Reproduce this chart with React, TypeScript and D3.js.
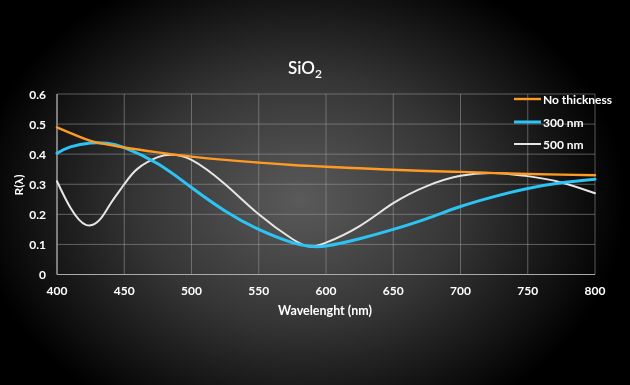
import React, { useRef, useEffect } from 'react';
import * as d3 from 'd3';

const wavelengths = [400, 410, 425, 437.5, 450, 475, 500, 525, 550, 575, 587.5, 600, 625, 650, 675, 700, 725, 750, 775, 800];
const noThickness = [0.489, 0.47, 0.444, 0.432, 0.422, 0.406, 0.392, 0.381, 0.372, 0.364, 0.361, 0.358, 0.353, 0.348, 0.344, 0.341, 0.337, 0.334, 0.332, 0.33];
const nm300 = [0.403, 0.424, 0.437, 0.436, 0.422, 0.368, 0.289, 0.211, 0.15, 0.106, 0.094, 0.095, 0.119, 0.15, 0.186, 0.226, 0.259, 0.286, 0.305, 0.317];

const white500X = [400, 410, 421.5, 432, 440, 450, 460, 475, 485, 500, 525, 550, 575, 587.5, 600, 625, 650, 675, 700, 725, 750, 775, 800];
const nm500 = [0.31, 0.222, 0.165, 0.183, 0.237, 0.3, 0.352, 0.39, 0.398, 0.381, 0.3, 0.2, 0.118, 0.093, 0.106, 0.161, 0.237, 0.294, 0.328, 0.337, 0.327, 0.306, 0.27];

const xTicks = [400, 450, 500, 550, 600, 650, 700, 750, 800];
const yTicks = [0, 0.1, 0.2, 0.3, 0.4, 0.5, 0.6];
const seriesNames = ['No thickness', '300 nm', '500 nm'];
const seriesColors = ['#ff9a22', '#2cc4f5', '#e6e6e6'];

const W = 630;
const H = 385;

const App = () => {
  const ref = useRef<SVGSVGElement>(null);

  useEffect(() => {
    const svg = d3.select(ref.current);
    svg.selectAll('*').remove();
    const font = 'Lato, "Open Sans", sans-serif';

    // vignette background
    const defs = svg.append('defs');
    const grad = defs.append('radialGradient')
      .attr('id', 'bg')
      .attr('gradientUnits', 'userSpaceOnUse')
      .attr('cx', 300).attr('cy', 200).attr('r', 310)
      .attr('gradientTransform', 'translate(300,200) scale(1.05,0.8) translate(-300,-200)');
    grad.append('stop').attr('offset', '0%').attr('stop-color', '#5a5a5a');
    grad.append('stop').attr('offset', '50%').attr('stop-color', '#353535');
    grad.append('stop').attr('offset', '100%').attr('stop-color', '#000');
    svg.append('rect').attr('width', W).attr('height', H).attr('fill', 'url(#bg)');

    const x = d3.scaleLinear().domain([400, 800]).range([57, 595]);
    const y = d3.scaleLinear().domain([0, 0.6]).range([274.5, 94]);

    // grid
    svg.append('g').selectAll('line.v')
      .data(xTicks)
      .enter().append('line')
      .attr('x1', d => x(d)).attr('x2', d => x(d))
      .attr('y1', y(0)).attr('y2', y(0.6))
      .attr('stroke', '#9a9a9a').attr('stroke-opacity', 0.55).attr('stroke-width', 1);
    svg.append('g').selectAll('line.h')
      .data(yTicks)
      .enter().append('line')
      .attr('x1', x(400)).attr('x2', x(800))
      .attr('y1', d => y(d)).attr('y2', d => y(d))
      .attr('stroke', '#9a9a9a').attr('stroke-opacity', 0.55).attr('stroke-width', 1);

    // axis lines
    svg.append('line').attr('x1', x(400)).attr('x2', x(400)).attr('y1', y(0)).attr('y2', y(0.6))
      .attr('stroke', '#aaa').attr('stroke-width', 1.2);
    svg.append('line').attr('x1', x(400)).attr('x2', x(800)).attr('y1', y(0)).attr('y2', y(0))
      .attr('stroke', '#aaa').attr('stroke-width', 1.2);

    // tick labels
    svg.append('g').selectAll('text')
      .data(yTicks)
      .enter().append('text')
      .attr('x', 46).attr('y', d => y(d) + 4.5)
      .attr('text-anchor', 'end')
      .attr('fill', '#fff').attr('font-family', font).attr('font-weight', 'bold').attr('font-size', 12)
      .text(d => d3.format('~g')(d));
    svg.append('g').selectAll('text')
      .data(xTicks)
      .enter().append('text')
      .attr('x', d => x(d)).attr('y', 295)
      .attr('text-anchor', 'middle')
      .attr('fill', '#fff').attr('font-family', font).attr('font-weight', 'bold').attr('font-size', 12)
      .text(d => d);

    // axis titles
    svg.append('text')
      .attr('x', 325).attr('y', 315)
      .attr('text-anchor', 'middle')
      .attr('fill', '#fff').attr('font-family', font).attr('font-weight', 'bold').attr('font-size', 12.5)
      .text('Wavelenght (nm)');
    svg.append('text')
      .attr('transform', 'translate(23,185) rotate(-90)')
      .attr('text-anchor', 'middle')
      .attr('fill', '#fff').attr('font-family', font).attr('font-weight', 'bold').attr('font-size', 12)
      .text('R(λ)');

    // title
    const title = svg.append('text')
      .attr('x', 305).attr('y', 74)
      .attr('text-anchor', 'middle')
      .attr('fill', '#fff').attr('font-family', font).attr('font-weight', 600).attr('font-size', 17);
    title.append('tspan').text('SiO');
    title.append('tspan').attr('dy', 4).attr('font-size', 12).text('2');

    // series
    const line = d3.line<[number, number]>()
      .x(d => x(d[0]))
      .y(d => y(d[1]))
      .curve(d3.curveNatural);

    const series: [number, number][][] = [
      wavelengths.map((w, i) => [w, noThickness[i]]),
      wavelengths.map((w, i) => [w, nm300[i]]),
      white500X.map((w, i) => [w, nm500[i]])
    ];
    const widths = [2.4, 3, 2];

    [2, 1, 0].forEach(i => {
      svg.append('path')
        .attr('d', line(series[i]))
        .attr('fill', 'none')
        .attr('stroke', seriesColors[i])
        .attr('stroke-width', widths[i])
        .attr('stroke-linecap', 'round');
    });

    // legend
    const legend = svg.append('g');
    const rows = [99, 122, 144];
    seriesNames.forEach((name, i) => {
      legend.append('line')
        .attr('x1', 514).attr('x2', 541)
        .attr('y1', rows[i]).attr('y2', rows[i])
        .attr('stroke', seriesColors[i]).attr('stroke-width', widths[i]);
      legend.append('text')
        .attr('x', 543).attr('y', rows[i] + 4.5)
        .attr('fill', '#fff').attr('font-family', font).attr('font-weight', 'bold').attr('font-size', 12)
        .text(name);
    });
  }, []);

  return (
    <svg ref={ref} width={W} height={H} style={{ position: 'fixed', left: 0, top: 0, display: 'block' }}></svg>
  );
};

export default App;
